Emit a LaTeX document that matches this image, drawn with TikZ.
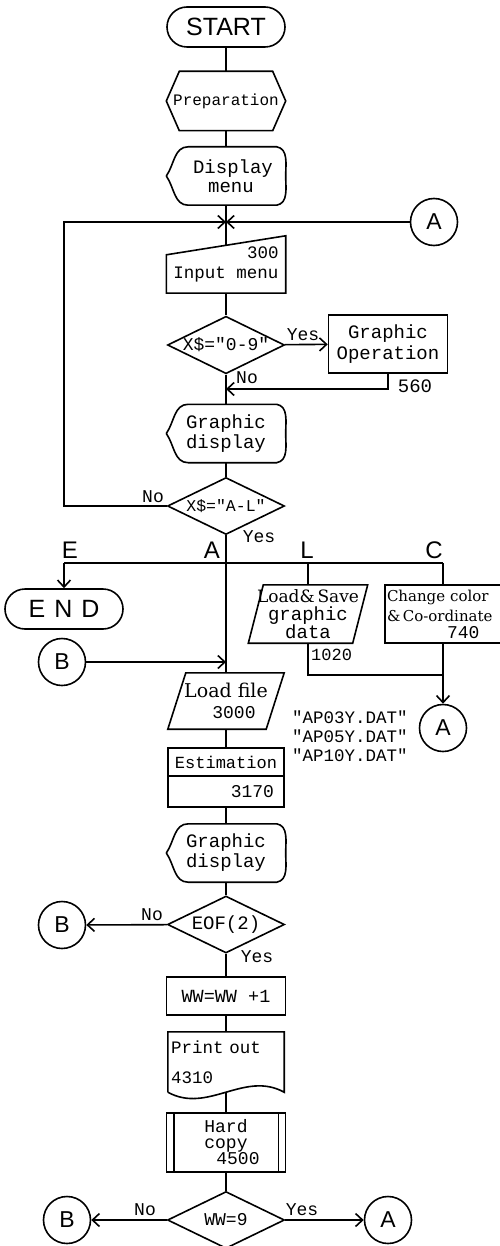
\documentclass[tikz,border=0pt]{standalone}
\usepackage{fontspec}
\setmonofont{Liberation Mono}
\newfontfamily\helvfont{Liberation Sans}
\newfontfamily\seriffont{DejaVu Serif}
\usetikzlibrary{shapes.geometric, shapes.misc, arrows.meta}

\tikzset{
  flow/.style={line width=1.6pt},
  flowarrow/.style={flow, -{Straight Barb[length=7pt,width=13pt]}},
  txt/.style={font=\ttfamily\fontsize{18}{19}\selectfont, inner sep=0pt, align=center},
  outline/.style={txt, minimum width=119, minimum height=58},
  process/.style={outline, draw, flow},
  terminal/.style={draw, flow, rounded rectangle, minimum width=118, minimum height=40, inner sep=0pt,
    font=\helvfont\fontsize{25}{25}\selectfont},
  decision/.style={txt, draw, flow, diamond, aspect=2, minimum width=117, minimum height=57},
  connector/.style={draw, flow, circle, minimum size=47, inner sep=0pt, font=\helvfont\fontsize{23}{23}\selectfont},
  bigletter/.style={inner sep=0pt, anchor=base, font=\helvfont\fontsize{24}{24}\selectfont}
}

% display symbol drawn round a plain node
\newcommand{\displayshape}[1]{%
  \draw[flow] (#1.west) to[out=55,in=180] ([xshift=22]#1.north west)
    -- ([xshift=-9]#1.north east) to[out=-10,in=90] (#1.east)
    to[out=-90,in=10] ([xshift=-9]#1.south east)
    -- ([xshift=22]#1.south west) to[out=180,in=-55] (#1.west);}

\begin{document}
\begin{tikzpicture}[x=1pt,y=1pt]
  \useasboundingbox (0,0) rectangle (500,-1246);

  % main column
  \node[terminal] (start) at (226,-27) {START};
  \node[outline, minimum height=59, font=\ttfamily\fontsize{16}{16}\selectfont] (prep) at (226,-101) {Preparation};
  \draw[flow] (prep.west) -- ([xshift=13]prep.north west) -- ([xshift=-13]prep.north east)
    -- (prep.east) -- ([xshift=-13]prep.south east) -- ([xshift=13]prep.south west) -- cycle;
  \node[outline, font=\ttfamily\fontsize{19}{19}\selectfont] (dmenu) at (226,-176) {\hspace*{14pt}Display\\\hspace*{10pt}menu};
  \displayshape{dmenu}
  \coordinate (join) at (226,-222);
  \node[outline, minimum height=57, align=right, font=\ttfamily\fontsize{17.5}{20}\selectfont] (inmenu) at (226,-264.5) {300\\Input menu};
  \draw[flow] ([yshift=-19]inmenu.north west) -- (inmenu.north east) -- (inmenu.south east) -- (inmenu.south west) -- cycle;
  \node[decision] (chk09) at (226,-345) {X\$="0-9"};
  \node[process, font=\ttfamily\fontsize{19}{21}\selectfont] (graphop) at (388,-344) {Graphic\\Operation};
  \coordinate (back) at (226,-389);
  \node[outline, font=\ttfamily\fontsize{19}{20}\selectfont] (gdisp1) at (226,-433.5) {Graphic\\display};
  \displayshape{gdisp1}
  \node[decision, font=\ttfamily\fontsize{16.5}{17}\selectfont] (chkal) at (226,-506) {X\$="A-L"};

  % branches
  \coordinate (forkE) at (64,-563);
  \coordinate (forkC) at (443,-563);
  \coordinate (loop) at (64,-222);
  \node[terminal] (stop) at (64,-609) {E\hspace{9pt}N\hspace{9pt}D};
  \node[outline, font=\ttfamily\fontsize{19}{18}\selectfont] (lsave) at (308,-614)
    {{\seriffont\fontsize{17}{17}\selectfont Load\&\,Save}\\graphic\\data};
  \draw[flow] ([xshift=15]lsave.north west) -- (lsave.north east) -- ([xshift=-15]lsave.south east) -- (lsave.south west) -- cycle;
  \node[process, minimum width=116, text width=112, align=left, font=\seriffont\fontsize{15}{20}\selectfont] (chcol) at (443,-614)
    {\makebox[112pt][l]{Change color}\\\makebox[112pt][l]{\&\,Co-ordinate}\\[-3pt]\hspace*{60pt}{\ttfamily\fontsize{18}{18}\selectfont 740}};
  \coordinate (meetA) at (443,-675);
  \node[connector] (retA2) at (443,-728) {A};
  \node[connector] (retA1) at (434,-222) {A};
  \node[connector] (retB1) at (62,-662) {B};

  % estimation part
  \node[outline, minimum width=116, minimum height=56] (loadf) at (226,-701)
    {{\seriffont\fontsize{19}{21}\selectfont Load file}\\[2pt]\hspace*{16pt}3000};
  \draw[flow] ([xshift=18]loadf.north west) -- (loadf.north east) -- ([xshift=-18]loadf.south east) -- (loadf.south west) -- cycle;
  \node[txt, font=\ttfamily\fontsize{17.5}{19}\selectfont] (datfiles) at (350,-736) {"AP03Y.DAT"\\"AP05Y.DAT"\\"AP10Y.DAT"};
  \node[process, minimum width=116, minimum height=28, font=\ttfamily\fontsize{17}{17}\selectfont] (est) at (226,-762) {Estimation};
  \node[process, minimum width=116, minimum height=31, text width=96, align=right] (estno) at (226,-791.5) {3170};
  \node[outline, font=\ttfamily\fontsize{19}{20}\selectfont] (gdisp2) at (226,-853) {Graphic\\display};
  \displayshape{gdisp2}
  \node[decision, font=\ttfamily\fontsize{19}{19}\selectfont] (chkeof) at (226,-924.5) {EOF(2)};
  \node[connector] (retB2) at (62,-925) {B};
  \node[process, minimum height=38, font=\ttfamily\fontsize{18.5}{19}\selectfont] (incww) at (226,-996) {WW=WW +1};
  \node[outline, minimum width=116, minimum height=60, text width=110, align=left, font=\ttfamily\fontsize{17.5}{19}\selectfont] (prnt) at (226,-1062)
    {Print out\\[11pt]4310};
  \draw[flow] (prnt.south west) -- (prnt.north west) -- (prnt.north east) -- (prnt.south east)
    .. controls ([xshift=-40,yshift=22]prnt.south east) and ([xshift=40,yshift=-22]prnt.south west) .. (prnt.south west);
  \node[process, minimum height=59, font=\ttfamily\fontsize{18}{16}\selectfont] (hcopy) at (226,-1142.5) {Hard\\copy\\\hspace*{24pt}4500};
  \draw[flow] ([xshift=8]hcopy.north west) -- ([xshift=8]hcopy.south west);
  \draw[flow] ([xshift=-8]hcopy.north east) -- ([xshift=-8]hcopy.south east);
  \node[decision] (chkww) at (226,-1220) {WW=9};
  \node[connector] (retB3) at (67,-1220) {B};
  \node[connector] (retA3) at (388,-1220) {A};

  % labels
  \node[txt] (yes1) at (303,-335) {Yes};
  \node[txt] (no1) at (247,-378) {No};
  \node[txt, font=\ttfamily\fontsize{19}{19}\selectfont] (n560) at (415,-386) {560};
  \node[txt] (no2) at (153,-497) {No};
  \node[txt] (yes2) at (259,-537) {Yes};
  \node[bigletter] (labE) at (70,-558) {E};
  \node[bigletter] (labA) at (212,-558) {A};
  \node[bigletter] (labL) at (307,-558) {L};
  \node[bigletter] (labC) at (434,-558) {C};
  \node[txt, anchor=west, font=\ttfamily\fontsize{17}{17}\selectfont] (n1020) at (311,-655) {1020};
  \node[txt] (no3) at (152,-915) {No};
  \node[txt] (yes3) at (257,-957) {Yes};
  \node[txt] (no4) at (145,-1210) {No};
  \node[txt] (yes4) at (302,-1210) {Yes};

  % connectors
  \draw[flow] (start) -- (prep);
  \draw[flow] (prep) -- (dmenu);
  \draw[flow] (dmenu) -- (join) -- ([yshift=-9.5]inmenu.north);
  \draw[flowarrow] (retA1) -- (join);
  \draw[flowarrow] (chkal.west) -| (loop) -- (join);
  \draw[flow] (inmenu) -- (chk09);
  \draw[flowarrow] (chk09) -- (graphop);
  \draw[flow] (chk09) -- (gdisp1);
  \draw[flowarrow] (graphop.south) |- (back);
  \draw[flow] (gdisp1) -- (chkal);
  \draw[flow] (chkal) -- (loadf);
  \draw[flow] (forkE) -- (forkC);
  \draw[flowarrow] (forkE) -- (stop);
  \draw[flow] (lsave.north |- forkE) -- (lsave);
  \draw[flow] (forkC) -- (chcol);
  \draw[flow] (lsave.south) |- (meetA);
  \draw[flowarrow] (chcol) -- (retA2);
  \draw[flowarrow] (retB1) -- (retB1 -| chkal.south);
  \draw[flow] (loadf) -- (est);
  \draw[flow] (estno) -- (gdisp2);
  \draw[flow] (gdisp2) -- (chkeof);
  \draw[flowarrow] (chkeof) -- (retB2);
  \draw[flow] (chkeof) -- (incww);
  \draw[flow] (incww) -- (prnt);
  \draw[flow] (prnt) -- (hcopy);
  \draw[flow] (hcopy) -- (chkww);
  \draw[flowarrow] (chkww) -- (retB3);
  \draw[flowarrow] (chkww) -- (retA3);
\end{tikzpicture}
\end{document}
